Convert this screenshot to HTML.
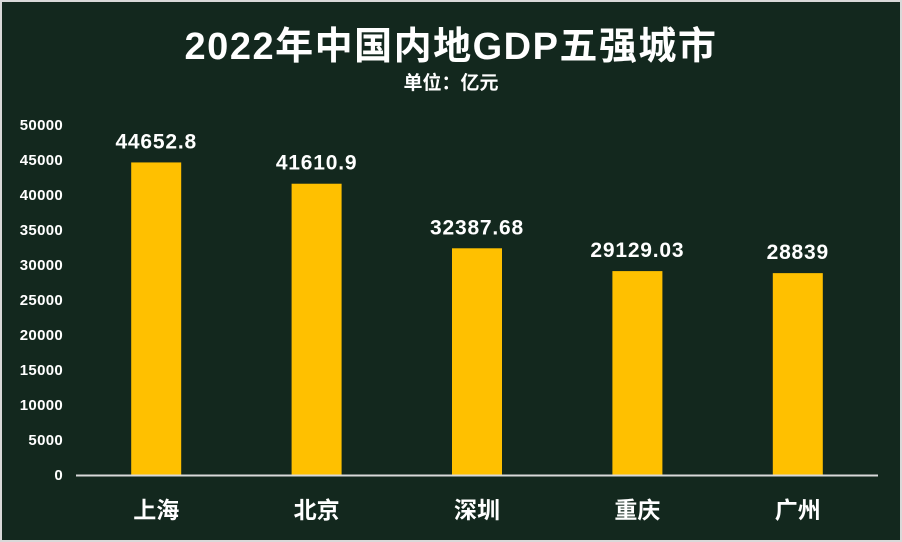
<!DOCTYPE html>
<html><head><meta charset="utf-8"><style>
html,body{margin:0;padding:0;background:#d9d9d9}
svg{display:block}
text{font-family:"Liberation Sans","Noto Sans CJK SC",sans-serif;fill:#fff}
</style></head><body>
<svg id="chart" width="902" height="542">
<rect x="2" y="2" width="898" height="538" fill="#13281e"/>
<text x="451" y="59" text-anchor="middle" font-size="38" font-weight="bold" letter-spacing="1.5">2022年中国内地GDP五强城市</text>
<text x="451" y="89" text-anchor="middle" font-size="19" font-weight="bold">单位：亿元</text>
<g id="yaxis"></g><g id="bars"></g>
<line x1="76" y1="475.5" x2="878" y2="475.5" stroke="#d9d9d9" stroke-width="2"/>
</svg>
<script>
const categories=["上海","北京","深圳","重庆","广州"];
const values=[44652.8,41610.9,32387.68,29129.03,28839];
const labels=["44652.8","41610.9","32387.68","29129.03","28839"];
const yTicks=[0,5000,10000,15000,20000,25000,30000,35000,40000,45000,50000];
const NS="http://www.w3.org/2000/svg";
const y0=475,yTop=125,ymax=50000;
const y=v=>y0-(v/ymax)*(y0-yTop);
const x0=76,x1=878,band=(x1-x0)/categories.length;
const xc=i=>x0+band*(i+0.5);
function mk(t,a,p){const e=document.createElementNS(NS,t);for(const k in a)e.setAttribute(k,a[k]);p.appendChild(e);return e;}
const ya=document.getElementById('yaxis');
yTicks.forEach(v=>{const t=mk('text',{x:63,y:y(v)+5,'text-anchor':'end','font-size':15,'font-weight':'bold','letter-spacing':0.3},ya);t.textContent=v;

});
const g=document.getElementById('bars');
categories.forEach((c,i)=>{
const r=mk('rect',{x:xc(i)-25,y:y(values[i]),width:50,height:y0-y(values[i]),fill:'#ffc000'},g);


const l=mk('text',{x:xc(i),y:y(values[i])-14,'text-anchor':'middle','font-size':21,'font-weight':'bold','letter-spacing':0.8},g);l.textContent=labels[i];


const cl=mk('text',{x:xc(i),y:518,'text-anchor':'middle','font-size':23,'font-weight':'bold'},g);cl.textContent=c;


});
</script>
</body></html>
